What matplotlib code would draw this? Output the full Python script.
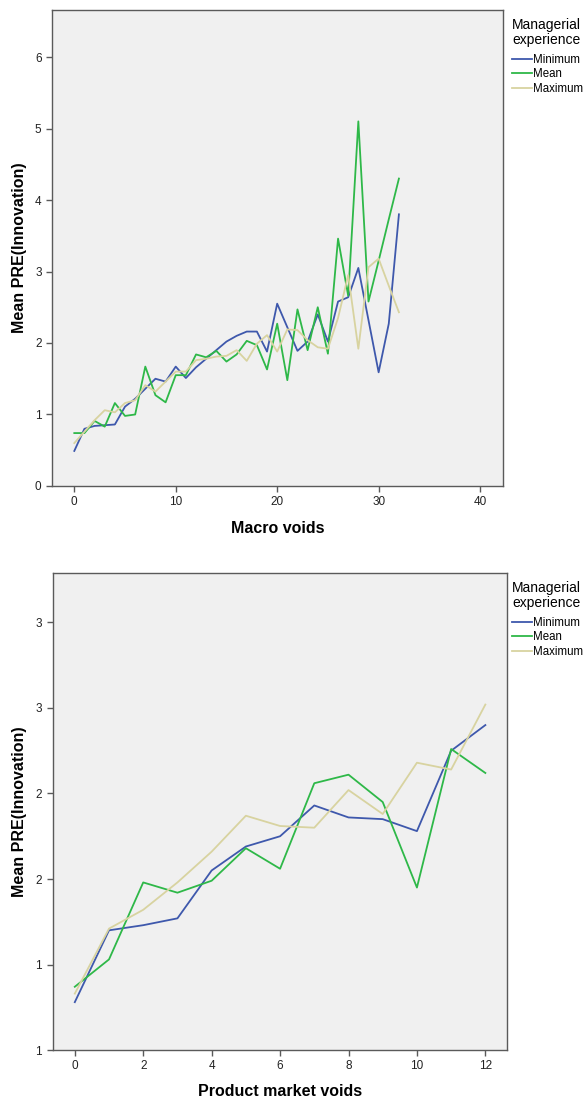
import matplotlib.pyplot as plt
import numpy as np

plt.rcParams['font.family'] = ['Liberation Sans', 'DejaVu Sans']

# dati
macro_x = list(range(0, 33))
macro_min = [0.49, 0.80, 0.84, 0.85, 0.86, 1.11, 1.22, 1.36, 1.50, 1.46, 1.67,
             1.51, 1.66, 1.78, 1.90, 2.02, 2.10, 2.16, 2.16, 1.88, 2.55, 2.22,
             1.89, 2.02, 2.40, 2.02, 2.58, 2.64, 3.05, 2.32, 1.59, 2.27, 3.80]
macro_mean = [0.74, 0.74, 0.91, 0.83, 1.16, 0.98, 1.00, 1.67, 1.27, 1.17, 1.55,
              1.55, 1.84, 1.80, 1.89, 1.74, 1.84, 2.03, 1.97, 1.63, 2.27, 1.48,
              2.47, 1.90, 2.50, 1.85, 3.46, 2.66, 5.10, 2.58, 3.15, 3.73, 4.30]
macro_max = [0.60, 0.76, 0.92, 1.06, 1.03, 1.16, 1.20, 1.41, 1.32, 1.46, 1.60,
             1.60, 1.76, 1.78, 1.81, 1.82, 1.90, 1.75, 1.99, 2.11, 1.88, 2.19,
             2.18, 2.04, 1.94, 1.92, 2.35, 2.95, 1.92, 3.06, 3.18, 2.80, 2.43]

product_x = list(range(0, 13))
product_min = [0.78, 1.20, 1.23, 1.27, 1.55, 1.69, 1.75, 1.93, 1.86, 1.85, 1.78, 2.25, 2.40]
product_mean = [0.87, 1.03, 1.48, 1.42, 1.49, 1.68, 1.56, 2.06, 2.11, 1.95, 1.45, 2.26, 2.12]
product_max = [0.83, 1.21, 1.32, 1.48, 1.66, 1.87, 1.81, 1.80, 2.02, 1.88, 2.18, 2.14, 2.52]

serie_nomi = ['Minimum', 'Mean', 'Maximum']
colori = ['#3E58AC', '#2EB848', '#D8D3A0']

macro_yticks = [0, 1, 2, 3, 4, 5, 6]
product_yticks = [0.5, 1.0, 1.5, 2.0, 2.5, 3.0]
product_yticklabels = ['1', '1', '2', '2', '3', '3']


def stile_assi(ax):
    ax.set_facecolor('#F0F0F0')
    for s in ax.spines.values():
        s.set_color('#5a5a5a')
        s.set_linewidth(1.0)
    ax.tick_params(direction='out', length=4, width=1.0, color='#5a5a5a',
                   labelsize=8.5, labelcolor='#222222')
    ax.set_ylabel('Mean PRE(Innovation)', fontsize=11.5, fontweight='bold', labelpad=6)


def aggiungi_legenda(ax, x_ancora, y_ancora):
    leg = ax.legend(loc='upper left', bbox_to_anchor=(x_ancora, y_ancora),
                    title='Managerial\nexperience', frameon=False,
                    fontsize=8.3, title_fontsize=10, borderaxespad=0, borderpad=0,
                    handlelength=1.7, handletextpad=0.1, labelspacing=0.22,
                    alignment='left')
    titolo = leg.get_title()
    titolo.set_linespacing(1.05)
    titolo.set_multialignment('left')
    leg._legend_box.sep = 5  # spazio tra titolo e voci
    return leg


fig = plt.figure(figsize=(5.84, 10.97), dpi=100)

# grafico superiore
ax1 = fig.add_axes([0.089, 0.557, 0.773, 0.434])
for vals, nome, col in zip([macro_min, macro_mean, macro_max], serie_nomi, colori):
    ax1.plot(macro_x, vals, color=col, linewidth=1.3, label=nome)
ax1.set_xlim(-2.2, 42.3)
ax1.set_ylim(0, 6.66)
ax1.set_xticks([0, 10, 20, 30, 40])
ax1.set_yticks(macro_yticks)
stile_assi(ax1)
ax1.set_xlabel('Macro voids', fontsize=11.5, fontweight='bold', labelpad=9)
aggiungi_legenda(ax1, 1.019, 0.982)

# grafico inferiore
ax2 = fig.add_axes([0.090, 0.0428, 0.778, 0.435])
for vals, nome, col in zip([product_min, product_mean, product_max], serie_nomi, colori):
    ax2.plot(product_x, vals, color=col, linewidth=1.3, label=nome)
ax2.set_xlim(-0.65, 12.63)
ax2.set_ylim(0.5, 3.29)
ax2.set_xticks(list(range(0, 13, 2)))
ax2.set_yticks(product_yticks)
ax2.set_yticklabels(product_yticklabels)
stile_assi(ax2)
ax2.set_xlabel('Product market voids', fontsize=11.5, fontweight='bold', labelpad=8)
aggiungi_legenda(ax2, 1.011, 0.982)

fig.savefig('out.png', dpi=100)
